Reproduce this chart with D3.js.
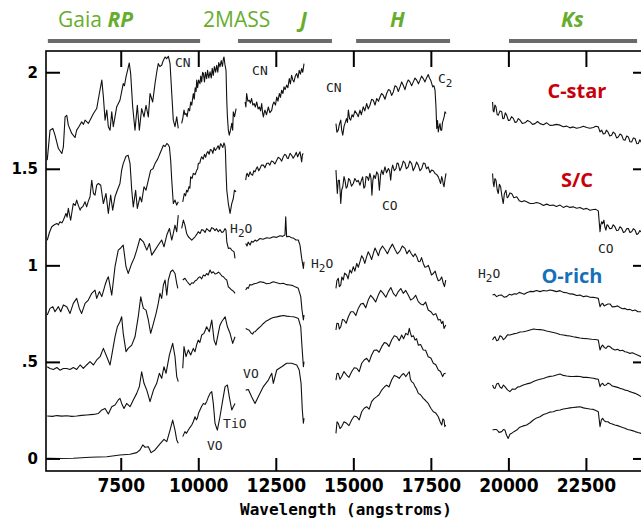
<!DOCTYPE html>
<html><head><meta charset="utf-8">
<script src="https://cdn.jsdelivr.net/npm/d3@7"></script>
<style>
html,body{margin:0;padding:0;background:#fff;}
svg{display:block;}
</style></head><body>
<svg id="chart" width="641" height="522"></svg>
<script>
// ---------------- DATA (wavelength in Å, relative flux + offset) ----------------
const xTicks = [7500, 10000, 12500, 15000, 17500, 20000, 22500];
const yTicks = [0, 0.5, 1, 1.5, 2];
const yTickLabels = ["0", ".5", "1", "1.5", "2"];

const bands = [
  {label: "Gaia RP", from: 5150, to: 10060},
  {label: "J", from: 11280, to: 14310},
  {label: "H", from: 15090, to: 18120},
  {label: "Ks", from: 20020, to: 24150}
];

// C-star
const cStarRP = [[5130,1.545],[5220,1.70],[5310,1.709],[5380,1.674],[5490,1.605],[5600,1.579],[5650,1.613],[5705,1.769],[5760,1.777],[5810,1.726],[5920,1.683],[6025,1.662],[6080,1.70],[6160,1.72],[6240,1.743],[6300,1.73],[6350,1.752],[6455,1.735],[6510,1.752],[6620,1.786],[6725,1.812],[6810,1.89],[6890,1.959],[6940,1.873],[6995,1.752],[7050,1.804],[7100,1.718],[7155,1.70],[7210,1.795],[7260,1.718],[7370,1.821],[7475,1.855],[7530,1.90],[7580,1.941],[7620,1.93],[7670,1.976],[7720,2.01],[7775,2.048],[7820,1.993],[7885,1.821],[7960,1.70],[8035,1.829],[8100,1.70],[8175,1.812],[8250,1.769],[8315,1.829],[8390,1.769],[8445,1.89],[8530,1.846],[8605,1.941],[8660,2.00],[8710,2.045],[8760,2.03],[8820,2.036],[8870,2.06],[8930,2.079],[8980,2.07],[9035,2.083],[9090,2.045],[9145,1.89],[9195,1.752],[9250,1.718],[9305,1.769],[9355,1.709],
  null,
  [9465,1.735],[9500,1.76],[9540,1.804],[9570,1.78],[9605,1.787],[9640,1.77],[9680,1.812],[9720,1.80],[9755,1.846],[9790,1.83],[9840,1.89],[9870,1.86],[9900,1.92],[9930,1.90],[9950,1.959],[9980,1.92],[10010,1.96],[10055,1.941],[10080,1.98],[10110,1.95],[10140,2.00],[10165,1.993],[10200,1.95],[10230,2.00],[10270,1.967],[10300,2.01],[10340,1.97],[10380,2.002],[10420,1.97],[10450,2.02],[10485,1.984],[10520,2.03],[10560,2.00],[10595,2.036],[10630,2.00],[10660,2.05],[10700,2.028],[10740,2.06],[10780,2.03],[10810,2.07],[10830,2.079],[10860,2.04],[10895,2.01],[10920,1.85],[10940,1.769],[10970,1.70],[11000,1.674],[11040,1.70],[11080,1.735],[11110,1.70],[11130,1.795],[11170,1.77],[11220,1.812]];
const cStarJ = [[11510,1.846],[11535,1.82],[11560,1.89],[11600,1.85],[11645,1.855],[11680,1.84],[11720,1.864],[11760,1.83],[11800,1.838],[11840,1.82],[11885,1.846],[11930,1.81],[11970,1.820],[12010,1.80],[12045,1.838],[12075,1.79],[12100,1.769],[12125,1.79],[12150,1.804],[12200,1.78],[12260,1.82],[12310,1.79],[12370,1.804],[12400,1.83],[12440,1.846],[12490,1.83],[12530,1.872],[12570,1.85],[12615,1.890],[12650,1.87],[12690,1.907],[12730,1.89],[12765,1.924],[12800,1.91],[12850,1.933],[12890,1.92],[12935,1.967],[12970,1.94],[13010,1.984],[13050,1.96],[13085,1.950],[13130,1.98],[13175,1.993],[13215,1.97],[13255,2.010],[13295,1.99],[13335,2.019],[13370,2.00],[13410,2.045]];
const cStarH = [[14440,1.734],[14470,1.69],[14515,1.700],[14550,1.73],[14595,1.752],[14625,1.70],[14660,1.674],[14700,1.72],[14730,1.734],[14780,1.76],[14810,1.74],[14840,1.804],[14880,1.76],[14915,1.752],[14960,1.78],[15000,1.769],[15050,1.80],[15110,1.786],[15160,1.77],[15215,1.804],[15260,1.78],[15320,1.821],[15370,1.80],[15430,1.838],[15480,1.81],[15535,1.829],[15590,1.86],[15645,1.855],[15700,1.83],[15755,1.864],[15810,1.85],[15860,1.872],[15910,1.89],[15965,1.881],[16020,1.86],[16075,1.890],[16130,1.91],[16180,1.907],[16235,1.88],[16290,1.898],[16345,1.93],[16400,1.924],[16450,1.90],[16505,1.924],[16560,1.95],[16610,1.933],[16665,1.91],[16720,1.941],[16770,1.96],[16825,1.950],[16880,1.93],[16935,1.950],[16990,1.97],[17045,1.959],[17100,1.94],[17150,1.959],[17200,1.98],[17255,1.967],[17310,1.95],[17365,1.972],[17415,1.988],[17455,1.97],[17495,1.959],[17560,1.924],[17600,1.93],[17635,1.907],[17665,1.821],[17690,1.709],[17715,1.75],[17740,1.691],[17770,1.72],[17795,1.734],[17820,1.70],[17850,1.700],[17875,1.74],[17900,1.752],[17930,1.77],[17955,1.795],[17990,1.786]];
const cStarK = [[19490,1.846],[19510,1.80],[19535,1.795],[19565,1.83],[19600,1.821],[19640,1.78],[19675,1.778],[19730,1.80],[19785,1.795],[19820,1.76],[19860,1.761],[19900,1.79],[19945,1.778],[20000,1.75],[20050,1.752],[20100,1.77],[20160,1.761],[20215,1.74],[20270,1.743],[20320,1.76],[20375,1.752],[20450,1.735],[20535,1.738],[20620,1.75],[20700,1.743],[20780,1.73],[20860,1.734],[20940,1.745],[21020,1.734],[21130,1.728],[21235,1.738],[21340,1.725],[21445,1.726],[21550,1.73],[21665,1.726],[21770,1.718],[21880,1.721],[21985,1.712],[22090,1.717],[22200,1.71],[22310,1.714],[22420,1.72],[22525,1.714],[22630,1.71],[22740,1.714],[22820,1.72],[22900,1.717],[22955,1.691],[23010,1.700],[23060,1.68],[23115,1.683],[23160,1.70],[23210,1.691],[23270,1.67],[23330,1.674],[23380,1.69],[23435,1.683],[23490,1.66],[23545,1.665],[23600,1.68],[23655,1.674],[23710,1.65],[23760,1.648],[23815,1.67],[23870,1.665],[23920,1.64],[23975,1.639],[24030,1.66],[24085,1.657],[24140,1.63],[24190,1.631],[24240,1.65],[24280,1.639],[24470,1.63]];

// S/C star
const scStarRP = [[5130,1.13],[5200,1.17],[5275,1.20],[5360,1.21],[5440,1.217],[5490,1.21],[5540,1.226],[5600,1.22],[5650,1.234],[5690,1.25],[5735,1.269],[5770,1.25],[5810,1.295],[5850,1.26],[5885,1.234],[5930,1.28],[5970,1.32],[6030,1.31],[6080,1.338],[6130,1.312],[6190,1.286],[6230,1.30],[6275,1.303],[6350,1.329],[6400,1.303],[6450,1.33],[6510,1.355],[6565,1.441],[6620,1.372],[6670,1.364],[6725,1.415],[6780,1.424],[6855,1.415],[6940,1.32],[7025,1.372],[7100,1.269],[7175,1.364],[7240,1.286],[7315,1.355],[7390,1.389],[7475,1.424],[7530,1.493],[7580,1.527],[7670,1.565],[7740,1.57],[7800,1.527],[7855,1.389],[7905,1.303],[7980,1.389],[8035,1.295],[8120,1.355],[8175,1.329],[8250,1.407],[8315,1.389],[8390,1.441],[8465,1.493],[8540,1.50],[8605,1.527],[8690,1.55],[8765,1.579],[8820,1.60],[8875,1.622],[8930,1.615],[8985,1.631],[9030,1.625],[9070,1.613],[9110,1.544],[9145,1.441],[9195,1.32],[9250,1.338],[9305,1.312],[9355,1.329],
  null,
  [9500,1.329],[9550,1.372],[9590,1.36],[9625,1.389],[9660,1.38],[9700,1.407],[9730,1.40],[9755,1.458],[9800,1.45],[9840,1.476],[9900,1.47],[9950,1.493],[9980,1.50],[10000,1.527],[10050,1.53],[10080,1.55],[10110,1.562],[10160,1.55],[10200,1.575],[10240,1.56],[10270,1.579],[10310,1.59],[10350,1.575],[10390,1.60],[10435,1.596],[10470,1.58],[10510,1.61],[10550,1.595],[10595,1.605],[10640,1.62],[10680,1.60],[10720,1.63],[10755,1.622],[10790,1.61],[10830,1.634],[10860,1.62],[10875,1.596],[10895,1.493],[10920,1.389],[10970,1.32],[11025,1.269],[11080,1.32],[11130,1.346],[11165,1.389],[11220,1.381]];
const scStarJ = [[11530,1.441],[11555,1.47],[11580,1.476],[11620,1.46],[11670,1.484],[11710,1.47],[11755,1.467],[11790,1.49],[11830,1.484],[11870,1.50],[11905,1.51],[11950,1.49],[11990,1.501],[12040,1.52],[12100,1.519],[12150,1.505],[12205,1.527],[12260,1.53],[12310,1.519],[12360,1.54],[12420,1.536],[12470,1.525],[12530,1.544],[12580,1.56],[12635,1.553],[12690,1.54],[12740,1.562],[12790,1.575],[12830,1.57],[12870,1.555],[12900,1.553],[12960,1.58],[13010,1.57],[13060,1.555],[13120,1.57],[13160,1.585],[13205,1.562],[13240,1.575],[13280,1.588],[13310,1.56],[13335,1.536],[13360,1.575],[13390,1.579]];
const scStarH = [[14440,1.493],[14465,1.42],[14485,1.372],[14515,1.44],[14550,1.441],[14575,1.38],[14595,1.32],[14625,1.39],[14660,1.407],[14700,1.46],[14730,1.441],[14770,1.40],[14805,1.407],[14850,1.45],[14890,1.441],[14940,1.41],[15000,1.424],[15050,1.45],[15110,1.433],[15160,1.44],[15215,1.415],[15260,1.44],[15300,1.458],[15340,1.40],[15375,1.407],[15410,1.46],[15450,1.458],[15490,1.44],[15535,1.476],[15570,1.45],[15600,1.363],[15630,1.44],[15665,1.467],[15710,1.45],[15755,1.484],[15800,1.47],[15840,1.389],[15880,1.47],[15915,1.493],[15960,1.47],[16020,1.51],[16070,1.48],[16130,1.501],[16170,1.49],[16205,1.441],[16240,1.50],[16270,1.519],[16320,1.49],[16375,1.501],[16410,1.53],[16450,1.527],[16500,1.49],[16560,1.51],[16610,1.54],[16665,1.53],[16710,1.50],[16770,1.51],[16820,1.54],[16880,1.527],[16930,1.49],[16990,1.51],[17040,1.535],[17095,1.519],[17150,1.49],[17205,1.501],[17260,1.53],[17310,1.527],[17360,1.50],[17415,1.51],[17470,1.48],[17525,1.493],[17580,1.49],[17635,1.476],[17690,1.47],[17740,1.458],[17780,1.44],[17815,1.424],[17850,1.46],[17880,1.441],[17900,1.42],[17925,1.407],[17960,1.45],[17990,1.476]];
const scStarK = [[19490,1.476],[19510,1.43],[19535,1.407],[19565,1.45],[19600,1.441],[19640,1.39],[19675,1.372],[19710,1.42],[19750,1.407],[19790,1.36],[19835,1.32],[19870,1.37],[19920,1.389],[19960,1.35],[19995,1.355],[20050,1.375],[20105,1.372],[20180,1.35],[20270,1.355],[20350,1.335],[20430,1.329],[20510,1.335],[20590,1.329],[20700,1.32],[20805,1.32],[20910,1.325],[21020,1.32],[21130,1.31],[21235,1.317],[21340,1.31],[21445,1.312],[21550,1.305],[21665,1.312],[21770,1.30],[21880,1.307],[21985,1.30],[22090,1.303],[22200,1.296],[22310,1.30],[22420,1.29],[22525,1.295],[22630,1.285],[22740,1.289],[22820,1.29],[22900,1.282],[22955,1.174],[22980,1.21],[23010,1.226],[23040,1.215],[23080,1.234],[23110,1.20],[23145,1.182],[23180,1.21],[23210,1.208],[23270,1.19],[23330,1.191],[23380,1.21],[23435,1.20],[23490,1.18],[23545,1.182],[23600,1.20],[23655,1.191],[23710,1.17],[23760,1.174],[23815,1.19],[23870,1.191],[23920,1.17],[23975,1.174],[24030,1.19],[24085,1.182],[24140,1.16],[24190,1.165],[24240,1.18],[24280,1.174],[24470,1.17]];

// O-rich star 1
const oRich1RP = [[5130,0.743],[5220,0.777],[5310,0.786],[5380,0.760],[5490,0.786],[5565,0.760],[5650,0.795],[5760,0.786],[5865,0.751],[5970,0.803],[6080,0.829],[6165,0.777],[6240,0.751],[6350,0.803],[6455,0.820],[6565,0.855],[6670,0.872],[6725,0.829],[6810,0.864],[6890,0.838],[6995,0.898],[7050,0.924],[7100,0.941],[7210,0.846],[7315,0.993],[7420,1.079],[7500,1.09],[7580,1.105],[7670,0.993],[7740,0.958],[7855,1.010],[7940,1.04],[8015,1.079],[8120,1.139],[8230,1.122],[8340,1.079],[8425,1.113],[8500,1.053],[8605,1.079],[8710,1.105],[8820,1.131],[8895,1.096],[8985,1.157],[9070,1.191],[9145,1.131],[9195,1.165],[9250,1.208],[9305,1.174],[9355,1.26],
  null,
  [9465,1.191],[9520,1.234],[9570,1.208],[9625,1.165],[9680,1.148],[9790,1.131],[9895,1.148],[9950,1.16],[10000,1.174],[10060,1.165],[10110,1.185],[10165,1.182],[10220,1.17],[10270,1.19],[10325,1.182],[10380,1.175],[10430,1.195],[10485,1.191],[10540,1.18],[10590,1.19],[10645,1.174],[10700,1.185],[10760,1.17],[10810,1.174],[10860,1.19],[10895,1.182],[10920,1.122],[10970,1.088],[11030,1.09],[11080,1.079],[11155,1.07],[11185,1.036]];
const oRich1J = [[11530,1.113],[11570,1.10],[11610,1.12],[11670,1.105],[11720,1.125],[11770,1.12],[11830,1.131],[11890,1.125],[11990,1.139],[12090,1.135],[12205,1.143],[12310,1.14],[12420,1.148],[12530,1.145],[12635,1.153],[12720,1.15],[12795,1.157],[12820,1.251],[12850,1.148],[12930,1.15],[13010,1.143],[13080,1.14],[13150,1.131],[13225,1.131],[13280,1.105],[13335,1.036],[13390,0.984],[13410,1.019]];
const oRich1H = [[14440,0.881],[14470,0.92],[14515,0.933],[14550,0.89],[14595,0.898],[14630,0.94],[14675,0.924],[14720,0.96],[14785,0.950],[14830,0.93],[14890,0.976],[14940,0.96],[15000,0.993],[15050,0.97],[15110,1.010],[15160,0.99],[15215,1.019],[15270,1.05],[15320,1.036],[15370,1.01],[15430,1.045],[15480,1.07],[15535,1.053],[15590,1.03],[15645,1.062],[15700,1.09],[15755,1.070],[15810,1.05],[15860,1.079],[15940,1.10],[16020,1.082],[16100,1.06],[16180,1.088],[16260,1.11],[16345,1.082],[16420,1.06],[16505,1.075],[16580,1.10],[16665,1.088],[16730,1.06],[16805,1.079],[16870,1.06],[16935,1.045],[16990,1.06],[17045,1.045],[17100,1.02],[17150,1.019],[17200,1.04],[17255,1.010],[17310,0.99],[17365,0.993],[17420,1.00],[17470,0.976],[17520,0.95],[17580,0.958],[17640,0.97],[17690,0.941],[17740,0.92],[17795,0.924],[17850,0.94],[17900,0.907],[17940,0.89],[17980,0.924]];
const oRich1K = [[19490,0.846],[19550,0.85],[19620,0.838],[19700,0.845],[19785,0.846],[19860,0.835],[19945,0.838],[20030,0.85],[20105,0.846],[20190,0.853],[20270,0.851],[20350,0.86],[20430,0.855],[20510,0.85],[20590,0.858],[20700,0.865],[20805,0.864],[20910,0.87],[21020,0.864],[21130,0.87],[21235,0.867],[21340,0.872],[21445,0.869],[21550,0.864],[21665,0.869],[21770,0.86],[21880,0.858],[21985,0.852],[22090,0.851],[22200,0.844],[22310,0.846],[22420,0.838],[22525,0.841],[22630,0.835],[22740,0.834],[22820,0.832],[22900,0.829],[22955,0.786],[23000,0.80],[23040,0.803],[23090,0.79],[23145,0.795],[23210,0.80],[23275,0.80],[23350,0.785],[23435,0.786],[23520,0.79],[23600,0.782],[23680,0.775],[23760,0.777],[23840,0.77],[23920,0.772],[24000,0.765],[24085,0.769],[24180,0.76],[24280,0.76],[24470,0.755]];

// O-rich star 2
const oRich2RP = [[5130,0.475],[5220,0.466],[5330,0.461],[5440,0.471],[5540,0.457],[5650,0.466],[5760,0.466],[5865,0.461],[5970,0.471],[6080,0.461],[6190,0.484],[6295,0.466],[6400,0.484],[6510,0.501],[6620,0.484],[6725,0.51],[6835,0.527],[6940,0.57],[7050,0.527],[7155,0.484],[7240,0.561],[7315,0.63],[7390,0.682],[7475,0.708],[7530,0.734],[7580,0.648],[7670,0.553],[7740,0.57],[7855,0.587],[7960,0.63],[8065,0.734],[8145,0.837],[8230,0.777],[8315,0.768],[8390,0.717],[8465,0.648],[8555,0.70],[8640,0.751],[8710,0.803],[8765,0.855],[8820,0.829],[8875,0.898],[8930,0.924],[8985,0.846],[9035,0.924],[9110,0.967],[9175,0.976],[9250,0.958],[9305,0.907],[9340,0.881],
  null,
  [9500,0.924],[9570,0.933],[9645,0.915],[9735,0.898],[9790,0.91],[9840,0.907],[9900,0.92],[9950,0.924],[10000,0.935],[10055,0.941],[10110,0.93],[10165,0.95],[10220,0.945],[10270,0.958],[10320,0.95],[10380,0.976],[10430,0.96],[10485,0.967],[10540,0.955],[10595,0.958],[10650,0.965],[10700,0.958],[10760,0.945],[10810,0.941],[10870,0.93],[10920,0.924],[10970,0.889],[11030,0.88],[11080,0.872],[11140,0.865],[11185,0.855]];
const oRich2J = [[11530,0.872],[11575,0.885],[11615,0.881],[11660,0.90],[11720,0.898],[11800,0.905],[11885,0.907],[11990,0.915],[12100,0.912],[12200,0.905],[12310,0.907],[12420,0.915],[12530,0.91],[12640,0.905],[12740,0.907],[12850,0.90],[12960,0.898],[13050,0.895],[13120,0.889],[13180,0.885],[13225,0.881],[13305,0.838],[13345,0.769],[13390,0.717],[13410,0.743]];
const oRich2H = [[14440,0.665],[14470,0.70],[14515,0.699],[14550,0.67],[14595,0.682],[14650,0.72],[14700,0.717],[14770,0.70],[14840,0.734],[14920,0.76],[15000,0.76],[15080,0.74],[15160,0.777],[15240,0.80],[15320,0.803],[15400,0.78],[15480,0.82],[15560,0.845],[15645,0.829],[15720,0.81],[15805,0.846],[15880,0.87],[15965,0.855],[16050,0.835],[16130,0.864],[16210,0.885],[16290,0.855],[16370,0.84],[16450,0.864],[16530,0.88],[16610,0.855],[16690,0.87],[16770,0.846],[16850,0.82],[16935,0.829],[17010,0.845],[17095,0.812],[17170,0.80],[17255,0.795],[17330,0.81],[17415,0.769],[17500,0.76],[17580,0.743],[17660,0.75],[17740,0.717],[17800,0.72],[17850,0.699],[17890,0.71],[17925,0.673],[17980,0.691]];
const oRich2K = [[19490,0.613],[19530,0.625],[19570,0.63],[19620,0.61],[19675,0.613],[19730,0.635],[19785,0.63],[19840,0.615],[19890,0.622],[19970,0.64],[20050,0.639],[20160,0.645],[20270,0.648],[20380,0.655],[20485,0.656],[20590,0.66],[20700,0.665],[20810,0.67],[20915,0.668],[21020,0.667],[21125,0.665],[21230,0.66],[21340,0.656],[21450,0.652],[21555,0.648],[21660,0.642],[21770,0.639],[21880,0.636],[21985,0.634],[22090,0.63],[22200,0.627],[22310,0.624],[22415,0.622],[22550,0.62],[22685,0.617],[22800,0.616],[22900,0.613],[22955,0.562],[23000,0.58],[23040,0.587],[23090,0.575],[23145,0.57],[23210,0.582],[23275,0.579],[23350,0.568],[23435,0.562],[23520,0.565],[23600,0.558],[23680,0.56],[23760,0.553],[23840,0.55],[23920,0.544],[24000,0.547],[24085,0.541],[24180,0.535],[24280,0.527],[24470,0.52]];

// O-rich star 3
const oRich3RP = [[5130,0.22],[5300,0.218],[5440,0.222],[5600,0.219],[5760,0.221],[5920,0.218],[6080,0.22],[6240,0.223],[6400,0.225],[6620,0.228],[6780,0.233],[6890,0.251],[6995,0.259],[7100,0.23],[7210,0.268],[7315,0.277],[7420,0.303],[7475,0.311],[7530,0.285],[7605,0.259],[7690,0.285],[7800,0.268],[7905,0.303],[8015,0.337],[8100,0.372],[8175,0.449],[8250,0.389],[8340,0.354],[8445,0.294],[8555,0.354],[8660,0.389],[8745,0.441],[8820,0.415],[8895,0.475],[8960,0.441],[9070,0.536],[9175,0.596],[9250,0.527],[9305,0.424],[9355,0.398],
  null,
  [9500,0.467],[9540,0.579],[9605,0.527],[9680,0.562],[9755,0.536],[9840,0.57],[9895,0.553],[9950,0.59],[10000,0.613],[10050,0.60],[10110,0.639],[10185,0.648],[10230,0.665],[10270,0.682],[10355,0.656],[10435,0.717],[10510,0.613],[10570,0.587],[10645,0.648],[10700,0.69],[10755,0.708],[10865,0.734],[10940,0.682],[11025,0.648],[11110,0.596],[11185,0.63]];
const oRich3J = [[11530,0.673],[11590,0.668],[11645,0.664],[11700,0.65],[11755,0.644],[11790,0.655],[11830,0.656],[11880,0.665],[11935,0.673],[12020,0.685],[12100,0.699],[12180,0.71],[12260,0.717],[12340,0.725],[12420,0.73],[12530,0.733],[12635,0.737],[12740,0.74],[12850,0.737],[12960,0.735],[13065,0.734],[13150,0.73],[13225,0.725],[13305,0.682],[13345,0.578],[13390,0.475],[13410,0.501]];
const oRich3H = [[14440,0.406],[14475,0.44],[14515,0.441],[14570,0.41],[14625,0.424],[14700,0.45],[14785,0.432],[14860,0.42],[14945,0.449],[15030,0.47],[15110,0.467],[15190,0.45],[15270,0.493],[15350,0.51],[15430,0.519],[15510,0.50],[15590,0.536],[15670,0.56],[15755,0.562],[15830,0.55],[15915,0.579],[16000,0.60],[16075,0.596],[16150,0.58],[16235,0.613],[16320,0.635],[16400,0.63],[16480,0.61],[16560,0.639],[16620,0.62],[16695,0.648],[16760,0.64],[16805,0.674],[16840,0.65],[16880,0.63],[16940,0.635],[16990,0.613],[17040,0.62],[17095,0.587],[17170,0.59],[17255,0.562],[17330,0.56],[17415,0.527],[17500,0.52],[17580,0.493],[17660,0.485],[17740,0.458],[17810,0.45],[17880,0.424],[17930,0.44],[17980,0.441]];
const oRich3K = [[19490,0.38],[19530,0.365],[19570,0.363],[19620,0.385],[19675,0.389],[19730,0.37],[19785,0.363],[19840,0.38],[19890,0.372],[19970,0.355],[20050,0.346],[20130,0.36],[20215,0.358],[20300,0.37],[20375,0.372],[20480,0.38],[20590,0.386],[20700,0.39],[20805,0.398],[20910,0.405],[21020,0.41],[21130,0.414],[21235,0.42],[21340,0.425],[21445,0.427],[21550,0.432],[21665,0.437],[21770,0.43],[21880,0.427],[21985,0.425],[22090,0.424],[22200,0.426],[22310,0.424],[22420,0.42],[22525,0.42],[22630,0.418],[22740,0.415],[22820,0.412],[22900,0.41],[22955,0.372],[23000,0.385],[23040,0.389],[23090,0.378],[23145,0.38],[23210,0.39],[23275,0.386],[23350,0.375],[23435,0.372],[23520,0.368],[23600,0.363],[23680,0.36],[23760,0.354],[23840,0.352],[23920,0.346],[24000,0.342],[24085,0.337],[24180,0.33],[24280,0.32],[24470,0.31]];

// O-rich star 4
const oRich4RP = [[5130,0.001],[5500,0.0],[5970,0.001],[6510,0.006],[7050,0.009],[7475,0.018],[7800,0.022],[8015,0.03],[8120,0.044],[8210,0.07],[8285,0.058],[8390,0.061],[8480,0.03],[8605,0.044],[8765,0.075],[8895,0.099],[8985,0.087],[9090,0.147],[9175,0.199],[9250,0.147],[9305,0.096],[9355,0.079],
  null,
  [9500,0.113],[9570,0.139],[9620,0.13],[9680,0.147],[9730,0.16],[9790,0.173],[9840,0.19],[9895,0.216],[9940,0.20],[9970,0.208],[10010,0.235],[10055,0.251],[10110,0.27],[10165,0.285],[10220,0.28],[10270,0.294],[10330,0.32],[10380,0.337],[10435,0.346],[10485,0.285],[10540,0.182],[10615,0.147],[10700,0.216],[10790,0.303],[10865,0.372],[10940,0.38],[11000,0.32],[11080,0.251],[11130,0.268],[11185,0.285]];
const oRich4J = [[11530,0.354],[11615,0.357],[11720,0.32],[11830,0.285],[11935,0.32],[12100,0.372],[12260,0.406],[12370,0.441],[12420,0.389],[12530,0.458],[12690,0.475],[12850,0.493],[13010,0.493],[13175,0.484],[13255,0.458],[13315,0.389],[13355,0.251],[13390,0.182],[13410,0.208]];
const oRich4H = [[14440,0.13],[14475,0.19],[14515,0.182],[14570,0.155],[14625,0.165],[14700,0.19],[14785,0.182],[14860,0.17],[14945,0.199],[15030,0.22],[15110,0.216],[15190,0.20],[15270,0.242],[15350,0.26],[15430,0.268],[15510,0.255],[15590,0.294],[15670,0.31],[15755,0.32],[15830,0.33],[15915,0.354],[16000,0.37],[16075,0.38],[16150,0.37],[16235,0.406],[16320,0.43],[16400,0.424],[16480,0.415],[16560,0.432],[16620,0.44],[16695,0.424],[16760,0.44],[16805,0.449],[16840,0.41],[16880,0.398],[16940,0.39],[16990,0.372],[17040,0.36],[17095,0.337],[17170,0.33],[17255,0.311],[17330,0.30],[17415,0.285],[17500,0.26],[17580,0.242],[17660,0.235],[17740,0.216],[17800,0.19],[17850,0.173],[17890,0.205],[17925,0.199],[17950,0.165],[17980,0.173]];
const oRich4K = [[19490,0.147],[19550,0.15],[19620,0.15],[19700,0.135],[19785,0.139],[19840,0.15],[19890,0.147],[19940,0.12],[19995,0.104],[20050,0.125],[20105,0.13],[20190,0.14],[20270,0.147],[20350,0.16],[20430,0.165],[20510,0.17],[20590,0.173],[20700,0.185],[20805,0.199],[20910,0.21],[21020,0.216],[21130,0.228],[21235,0.233],[21340,0.24],[21445,0.242],[21550,0.248],[21665,0.251],[21770,0.256],[21880,0.259],[21985,0.262],[22090,0.264],[22200,0.266],[22310,0.268],[22420,0.262],[22525,0.259],[22630,0.256],[22740,0.254],[22820,0.248],[22900,0.242],[22955,0.165],[23000,0.20],[23040,0.208],[23090,0.195],[23145,0.19],[23210,0.19],[23275,0.182],[23350,0.178],[23435,0.173],[23520,0.17],[23600,0.165],[23680,0.16],[23760,0.156],[23840,0.15],[23920,0.147],[24000,0.144],[24085,0.139],[24180,0.134],[24280,0.13],[24470,0.12]];

// molecular band annotations (wavelength, flux, label, subscript part)
const annotations = [
  {wl: 9250, f: 2.026, pre: "CN", sub: "", post: ""},
  {wl: 11735, f: 1.985, pre: "CN", sub: "", post: ""},
  {wl: 14120, f: 1.897, pre: "CN", sub: "", post: ""},
  {wl: 17730, f: 1.943, pre: "C", sub: "2", post: ""},
  {wl: 15925, f: 1.286, pre: "CO", sub: "", post: ""},
  {wl: 22890, f: 1.063, pre: "CO", sub: "", post: ""},
  {wl: 11025, f: 1.167, pre: "H", sub: "2", post: "O"},
  {wl: 13635, f: 0.986, pre: "H", sub: "2", post: "O"},
  {wl: 19020, f: 0.934, pre: "H", sub: "2", post: "O"},
  {wl: 11445, f: 0.417, pre: "VO", sub: "", post: ""},
  {wl: 10800, f: 0.158, pre: "TiO", sub: "", post: ""},
  {wl: 10280, f: 0.044, pre: "VO", sub: "", post: ""}
];
const classLabels = [
  {wl: 22210, f: 1.865, text: "C-star", color: "#c8000a"},
  {wl: 22210, f: 1.405, text: "S/C", color: "#c8000a"},
  {wl: 22050, f: 0.908, text: "O-rich", color: "#1670b8"}
];

// ---------------- DRAWING ----------------
const svg = d3.select("#chart");
svg.append("rect").attr("width", 641).attr("height", 522).attr("fill", "#fff");

const x = d3.scaleLinear().domain([5090, 24470]).range([46, 647]);
const y = d3.scaleLinear().domain([-0.065, 2.11]).range([471, 51]);

const series = [cStarRP, cStarJ, cStarH, cStarK, scStarRP, scStarJ, scStarH, scStarK,
  oRich1RP, oRich1J, oRich1H, oRich1K, oRich2RP, oRich2J, oRich2H, oRich2K,
  oRich3RP, oRich3J, oRich3H, oRich3K, oRich4RP, oRich4J, oRich4H, oRich4K];

const line = d3.line().defined(d => d !== null).x(d => x(d[0])).y(d => y(d[1]));

svg.append("defs").append("clipPath").attr("id", "plotclip")
  .append("rect").attr("x", 46).attr("y", 51).attr("width", 601).attr("height", 420);

const g = svg.append("g").attr("clip-path", "url(#plotclip)");
g.selectAll("path.spec").data(series).join("path")
  .attr("class", "spec")
  .attr("d", line)
  .attr("fill", "none")
  .attr("stroke", "#111")
  .attr("stroke-width", 1.1)
  .attr("stroke-linejoin", "round");

// axes
const tickFont = "'Liberation Sans Narrow','Arial Narrow','DejaVu Sans Condensed',sans-serif";
const xB = svg.append("g").attr("transform", "translate(0,471)")
  .call(d3.axisBottom(x).tickValues(xTicks).tickSize(-13).tickPadding(8).tickFormat(d => String(d)));
xB.selectAll("text").attr("font-family", tickFont).attr("font-weight", "bold").attr("font-size", 19).attr("fill", "#000");
const xT = svg.append("g").attr("transform", "translate(0,51)")
  .call(d3.axisTop(x).tickValues(xTicks).tickSize(-16).tickFormat(""));
const yL = svg.append("g").attr("transform", "translate(46,0)")
  .call(d3.axisLeft(y).tickValues(yTicks).tickSize(-14).tickPadding(8).tickFormat((d, i) => yTickLabels[i]));
yL.selectAll("text").attr("font-family", "'DejaVu Sans',sans-serif").attr("font-weight", "bold").attr("font-size", 15).attr("fill", "#000");
const yR = svg.append("g").attr("transform", "translate(647,0)")
  .call(d3.axisRight(y).tickValues(yTicks).tickSize(-14).tickFormat(""));
[xB, xT, yL, yR].forEach(a => {
  a.select(".domain").remove();
  a.selectAll(".tick line").attr("stroke", "#000").attr("stroke-width", 2);
});

svg.append("rect").attr("x", 46).attr("y", 51).attr("width", 601).attr("height", 420)
  .attr("fill", "none").attr("stroke", "#000").attr("stroke-width", 1.6);

svg.append("text").attr("x", 346).attr("y", 515).attr("text-anchor", "middle")
  .attr("font-family", "'DejaVu Sans Mono',monospace").attr("font-weight", "bold").attr("font-size", 16)
  .attr("fill", "#000").text("Wavelength (angstroms)");

// annotations
const ann = svg.append("g").attr("font-family", "'DejaVu Sans Mono',monospace").attr("font-size", 13).attr("fill", "#222");
annotations.forEach(a => {
  const t = ann.append("text").attr("x", x(a.wl)).attr("y", y(a.f));
  t.append("tspan").text(a.pre);
  if (a.sub) t.append("tspan").attr("dy", 4).attr("font-size", 11).text(a.sub);
  if (a.post) t.append("tspan").attr("dy", -4).text(a.post);
});

classLabels.forEach(c => {
  svg.append("text").attr("x", x(c.wl)).attr("y", y(c.f)).attr("text-anchor", "middle")
    .attr("font-family", "'Open Sans','Lato',sans-serif").attr("font-weight", "bold").attr("font-size", 20)
    .attr("fill", c.color).text(c.text);
});

// header bands
const green = "#67ad2d";
svg.selectAll("line.band").data(bands).join("line").attr("class", "band")
  .attr("x1", d => x(d.from)).attr("x2", d => x(d.to)).attr("y1", 41).attr("y2", 41)
  .attr("stroke", "#6b6b6b").attr("stroke-width", 4);

const hdr = svg.append("g").attr("font-family", "'Open Sans','Lato',sans-serif").attr("font-size", 21).attr("fill", green);
const t1 = hdr.append("text").attr("x", 58).attr("y", 27);
t1.append("tspan").attr("font-weight", 400).text("Gaia ");
t1.append("tspan").attr("font-weight", 700).attr("font-style", "italic").text("RP");
hdr.append("text").attr("x", 203).attr("y", 27).attr("font-weight", 400).text("2MASS");
hdr.append("text").attr("x", 300).attr("y", 27).attr("font-weight", 700).attr("font-style", "italic").text("J");
hdr.append("text").attr("x", 390).attr("y", 27).attr("font-weight", 700).attr("font-style", "italic").text("H");
hdr.append("text").attr("x", 561).attr("y", 27).attr("font-weight", 700).attr("font-style", "italic").text("Ks");
</script>
</body></html>
